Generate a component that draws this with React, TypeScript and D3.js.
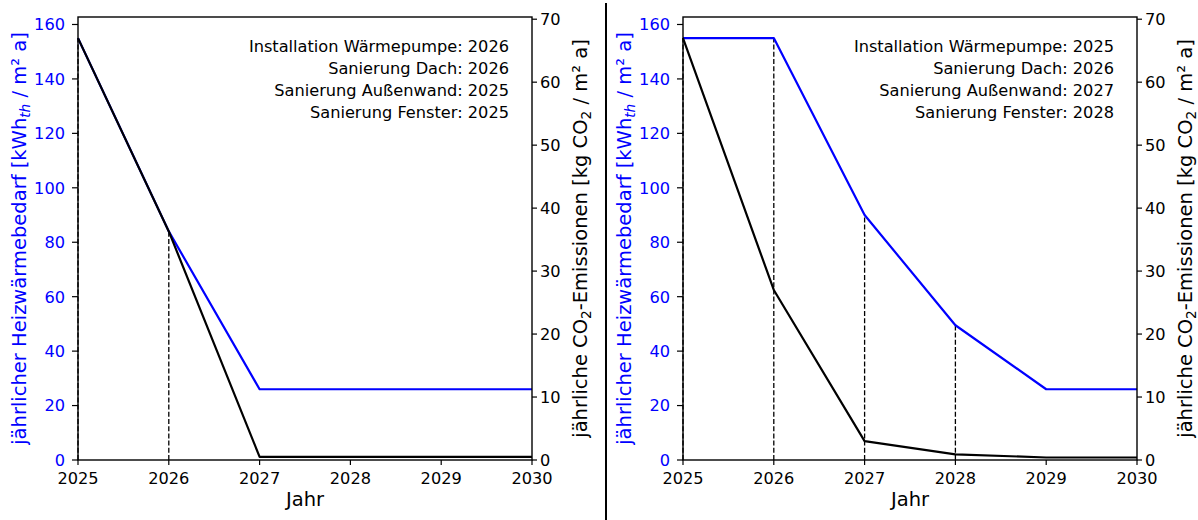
import React from "react";
import * as d3 from "d3";

// Years on the x axis
const years = [2025, 2026, 2027, 2028, 2029, 2030];

// Scenario A
const heatA = [155, 84, 26, 26, 26, 26];
const co2A = [67, 36.3, 0.5, 0.5, 0.5, 0.5];
const measureYearsA = [2026, 2026, 2025, 2025];

// Scenario B
const heatB = [155, 155, 90, 49.5, 26, 26];
const co2B = [67, 27.0, 3.0, 0.9, 0.4, 0.4];
const measureYearsB = [2025, 2026, 2027, 2028];

const measureNames = [
  "Installation Wärmepumpe",
  "Sanierung Dach",
  "Sanierung Außenwand",
  "Sanierung Fenster",
];

const heatTicks = [0, 20, 40, 60, 80, 100, 120, 140, 160];
const co2Ticks = [0, 10, 20, 30, 40, 50, 60, 70];

const FONT = "DejaVu Sans, sans-serif";
const BLUE = "#0000ff";
const TICK_FS = 16.2;
const LABEL_FS = 19.5;

const TOP = 17;
const BOTTOM = 460;
const HEAT_MAX = 162.75;
const CO2_MAX = 70.35;

type PanelProps = {
  left: number;
  right: number;
  heat: number[];
  co2: number[];
  measureYears: number[];
};

function Panel({ left, right, heat, co2, measureYears }: PanelProps) {
  const x = d3.scaleLinear().domain([2025, 2030]).range([left, right]);
  const yH = d3.scaleLinear().domain([0, HEAT_MAX]).range([BOTTOM, TOP]);
  const yC = d3.scaleLinear().domain([0, CO2_MAX]).range([BOTTOM, TOP]);

  const heatLine = d3
    .line<number>()
    .x((_, i) => x(years[i]))
    .y((d) => yH(d));
  const co2Line = d3
    .line<number>()
    .x((_, i) => x(years[i]))
    .y((d) => yC(d));

  const markerYears = Array.from(new Set(measureYears)).sort();
  const midY = (TOP + BOTTOM) / 2;

  return (
    <g>
      {/* dashed markers at the years a measure takes effect */}
      {markerYears.map((yr) => {
        const v = heat[years.indexOf(yr)];
        return (
          <line
            key={yr}
            x1={x(yr)}
            x2={x(yr)}
            y1={yH(0)}
            y2={yH(v)}
            stroke="#000"
            strokeWidth={1.3}
            strokeDasharray="5,2.2"
          />
        );
      })}
      <path d={heatLine(heat) || ""} fill="none" stroke={BLUE} strokeWidth={2.2} strokeLinejoin="round" />
      <path d={co2Line(co2) || ""} fill="none" stroke="#000" strokeWidth={2.2} strokeLinejoin="round" />

      {/* frame */}
      <rect x={left} y={TOP} width={right - left} height={BOTTOM - TOP} fill="none" stroke="#000" strokeWidth={1.4} />

      {/* x axis */}
      {years.map((yr) => (
        <g key={yr}>
          <line x1={x(yr)} x2={x(yr)} y1={BOTTOM} y2={BOTTOM + 5} stroke="#000" strokeWidth={1.2} />
          <text x={x(yr)} y={BOTTOM + 24} fontSize={TICK_FS} textAnchor="middle" fill="#000">
            {yr}
          </text>
        </g>
      ))}
      <text x={(left + right) / 2} y={506} fontSize={LABEL_FS} textAnchor="middle" fill="#000">
        Jahr
      </text>

      {/* left axis: heat demand */}
      {heatTicks.map((t) => (
        <g key={t}>
          <line x1={left - 6} x2={left} y1={yH(t)} y2={yH(t)} stroke="#000" strokeWidth={1.2} />
          <text x={left - 13} y={yH(t)} dy="0.36em" fontSize={TICK_FS} textAnchor="end" fill={BLUE}>
            {t}
          </text>
        </g>
      ))}
      <text
        transform={`translate(${left - 52},${midY}) rotate(-90)`}
        fontSize={LABEL_FS}
        textAnchor="middle"
        fill={BLUE}
      >
        jährlicher Heizwärmebedarf [kWh
        <tspan fontSize={LABEL_FS * 0.7} fontStyle="italic" dy={4}>th</tspan>
        <tspan dy={-4}> / m² a]</tspan>
      </text>

      {/* right axis: CO2 emissions */}
      {co2Ticks.map((t) => (
        <g key={t}>
          <line x1={right} x2={right + 5} y1={yC(t)} y2={yC(t)} stroke="#000" strokeWidth={1.2} />
          <text x={right + 8} y={yC(t)} dy="0.36em" fontSize={TICK_FS} textAnchor="start" fill="#000">
            {t}
          </text>
        </g>
      ))}
      <text
        transform={`translate(${right + 55},${midY}) rotate(-90)`}
        fontSize={LABEL_FS}
        textAnchor="middle"
        fill="#000"
      >
        jährliche CO
        <tspan fontSize={LABEL_FS * 0.7} dy={4}>2</tspan>
        <tspan dy={-4}>-Emissionen [kg CO</tspan>
        <tspan fontSize={LABEL_FS * 0.7} dy={4}>2</tspan>
        <tspan dy={-4}> / m² a]</tspan>
      </text>

      {/* measure schedule */}
      {measureNames.map((name, i) => (
        <text key={name} x={right - 23} y={52 + i * 22} fontSize={TICK_FS} textAnchor="end" fill="#000">
          {`${name}: ${measureYears[i]}`}
        </text>
      ))}
    </g>
  );
}

export default function App() {
  return (
    <svg
      width={1198}
      height={520}
      style={{ position: "absolute", left: 0, top: 0, background: "#fff" }}
      fontFamily={FONT}
    >
      <rect width={1198} height={520} fill="#fff" />
      <Panel left={78} right={532} heat={heatA} co2={co2A} measureYears={measureYearsA} />
      <line x1={606} x2={606} y1={3} y2={520} stroke="#000" strokeWidth={2} />
      <Panel left={683} right={1137} heat={heatB} co2={co2B} measureYears={measureYearsB} />
    </svg>
  );
}
